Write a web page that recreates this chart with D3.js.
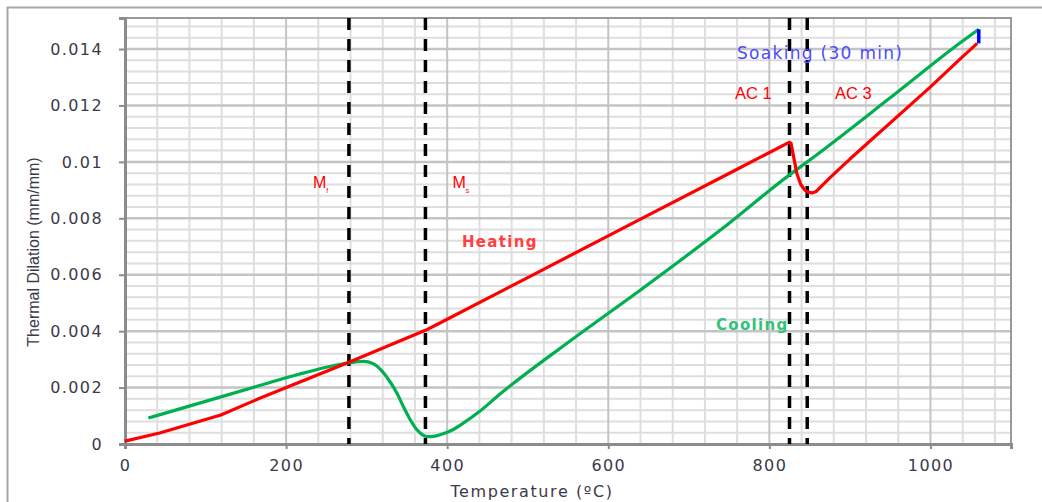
<!DOCTYPE html>
<html>
<head>
<meta charset="utf-8">
<script src="https://cdn.jsdelivr.net/npm/d3@7"></script>
<style>
  html, body { margin: 0; padding: 0; background: #fff; }
  svg { display: block; }
</style>
</head>
<body>
<svg id="chart" width="1042" height="502"></svg>
<script>
// Dilatometry curve: heating and cooling of a steel sample
const heatTemp = [0, 43, 119, 168, 278, 373, 391, 500, 640, 760, 825, 827, 830, 834, 839, 844, 848, 853, 858, 865, 875, 900, 1000, 1037, 1058];
const heatDil  = [0.0001, 0.00039, 0.00103, 0.00163, 0.0029, 0.00403, 0.00429, 0.0059, 0.00797, 0.00974, 0.0107, 0.01065, 0.0102, 0.0096, 0.0092, 0.009, 0.00893, 0.0089, 0.00895, 0.00915, 0.00943, 0.0101, 0.01266, 0.01365, 0.0142];

const coolTemp = [29, 100, 168, 217, 250, 278, 296, 308, 318, 328, 338, 346, 354, 362, 369, 375, 385, 395, 405, 420, 440, 466, 550, 640, 740, 825, 847, 950, 1037, 1060];
const coolDil  = [0.00092, 0.00151, 0.00208, 0.00248, 0.00272, 0.00288, 0.00293, 0.00285, 0.00262, 0.00225, 0.00178, 0.0013, 0.00087, 0.00052, 0.00033, 0.00026, 0.00028, 0.00036, 0.00048, 0.00074, 0.00115, 0.00178, 0.0036, 0.00546, 0.0076, 0.00954, 0.0100, 0.01227, 0.01422, 0.0147];

const soakTemp = [1060, 1060];
const soakDil  = [0.0142, 0.0147];

// Transformation temperatures (Mf, Ms, Ac1, Ac3)
const transTemp = [278, 373, 825, 847];

const xTicks = [0, 200, 400, 600, 800, 1000];
const xTickLabels = ["0", "200", "400", "600", "800", "1000"];
const yTicks = [0, 0.002, 0.004, 0.006, 0.008, 0.01, 0.012, 0.014];
const yTickLabels = ["0", "0.002", "0.004", "0.006", "0.008", "0.01", "0.012", "0.014"];

const xTitle = "Temperature (ºC)";
const yTitle = "Thermal Dilation (mm/mm)";

const svg = d3.select("#chart");
const x = d3.scaleLinear().domain([0, 1100]).range([125, 1011]);
const y = d3.scaleLinear().domain([0, 0.0151]).range([444, 18]);

// outer frame
svg.append("path").attr("d", "M7.5,502 V7.5 H1042")
  .attr("fill", "none").attr("stroke", "#a8a8a8").attr("stroke-width", 2);

// grid
const g = svg.append("g");
const xMinor = d3.range(40, 1100, 40).filter(v => v % 200 !== 0);
const yMinor = d3.range(1, 38).map(i => i * 0.0004).filter(v => Math.abs(v / 0.002 - Math.round(v / 0.002)) > 1e-6 && v < 0.0151);
g.selectAll(".vx").data(xMinor).join("line")
  .attr("x1", d => x(d)).attr("x2", d => x(d)).attr("y1", y(0.0151)).attr("y2", y(0))
  .attr("stroke", "#dedede").attr("stroke-width", 2);
g.selectAll(".hy").data(yMinor).join("line")
  .attr("y1", d => y(d)).attr("y2", d => y(d)).attr("x1", x(0)).attr("x2", x(1100))
  .attr("stroke", "#dedede").attr("stroke-width", 2);
g.selectAll(".vX").data(xTicks.slice(1)).join("line")
  .attr("x1", d => x(d)).attr("x2", d => x(d)).attr("y1", y(0.0151)).attr("y2", y(0))
  .attr("stroke", "#c4c4c4").attr("stroke-width", 2);
g.selectAll(".hY").data(yTicks.slice(1)).join("line")
  .attr("y1", d => y(d)).attr("y2", d => y(d)).attr("x1", x(0)).attr("x2", x(1100))
  .attr("stroke", "#c4c4c4").attr("stroke-width", 2.5);

// plot border (top, right)
svg.append("path").attr("d", `M${x(0)},${y(0.0151)} H${x(1100)} V${y(0)}`)
  .attr("fill", "none").attr("stroke", "#9a9a9a").attr("stroke-width", 2);

// axes
const xAxis = svg.append("g").attr("transform", `translate(0,${y(0)})`)
  .call(d3.axisBottom(x).tickValues(xTicks).tickFormat((d, i) => xTickLabels[i]).tickSize(5).tickPadding(11));
const yAxis = svg.append("g").attr("transform", `translate(${x(0)},0)`)
  .call(d3.axisLeft(y).tickValues(yTicks).tickFormat((d, i) => yTickLabels[i]).tickSize(6).tickPadding(16));
[xAxis, yAxis].forEach(a => {
  a.select(".domain").attr("stroke", "#8c8c8c").attr("stroke-width", 3);
  a.selectAll(".tick line").attr("stroke", "#8c8c8c").attr("stroke-width", 2);
  a.selectAll(".tick text").attr("fill", "#3a3a4a")
    .style("font-family", "DejaVu Sans").style("font-size", "16px").style("letter-spacing", "1.4px");
});

// transformation lines
svg.selectAll(".trans").data(transTemp).join("line")
  .attr("x1", d => x(d)).attr("x2", d => x(d)).attr("y1", y(0.0151)).attr("y2", y(0))
  .attr("stroke", "#000").attr("stroke-width", 3.5).attr("stroke-dasharray", "12,9");

// curves
const cool = d3.zip(coolTemp, coolDil);
const heat = d3.zip(heatTemp, heatDil);
svg.append("path").datum(cool)
  .attr("d", d3.line().x(d => x(d[0])).y(d => y(d[1])).curve(d3.curveMonotoneX))
  .attr("fill", "none").attr("stroke", "#00b050").attr("stroke-width", 3.2);
svg.append("path").datum(heat)
  .attr("d", d3.line().x(d => x(d[0])).y(d => y(d[1])))
  .attr("fill", "none").attr("stroke", "#ff0000").attr("stroke-width", 3.2).attr("stroke-linejoin", "round");
svg.append("path").datum(d3.zip(soakTemp, soakDil))
  .attr("d", d3.line().x(d => x(d[0])).y(d => y(d[1])))
  .attr("fill", "none").attr("stroke", "#0000ff").attr("stroke-width", 3.5);

// titles
svg.append("text").attr("x", 532).attr("y", 497).attr("text-anchor", "middle")
  .style("font-family", "DejaVu Sans").style("font-size", "16px").attr("fill", "#3a3a4a")
  .style("letter-spacing", "1.6px").text(xTitle);
svg.append("text").attr("transform", "translate(39,252) rotate(-90)").attr("text-anchor", "middle")
  .style("font-family", "Liberation Sans Narrow, Liberation Sans").style("font-size", "16px")
  .attr("fill", "#3a3a4a").text(yTitle);

// annotations
const note = (tx, ty, txt, color, family, size, weight, spacing) =>
  svg.append("text").attr("x", tx).attr("y", ty).attr("fill", color)
    .style("font-family", family).style("font-size", size + "px")
    .style("font-weight", weight || "normal").style("letter-spacing", (spacing || 0) + "px")
    .text(txt);

const mLabels = [["f", 278], ["s", 373]];
mLabels.forEach(([sub, t], i) => {
  const tx = x(t) - (i === 0 ? 36 : -27);
  const tEl = svg.append("text").attr("x", tx).attr("y", 188).attr("fill", "#ff0000")
    .style("font-family", "Liberation Sans").style("font-size", "16px");
  tEl.append("tspan").text("M");
  tEl.append("tspan").attr("dy", 5).style("font-size", "7px").text(sub);
});

note(735, 99, "AC 1", "#ff0000", "Liberation Sans", 16.5, "normal", 0);
note(835, 99, "AC 3", "#ff0000", "Liberation Sans", 16.5, "normal", 0);
note(737, 59, "Soaking (30 min)", "#4b4bff", "DejaVu Sans", 17, "normal", 1.3);
note(462, 247, "Heating", "#ff4040", "DejaVu Sans", 15, "bold", 1.3);
note(716, 330, "Cooling", "#33c27a", "DejaVu Sans", 15, "bold", 1.3);
</script>
</body>
</html>
